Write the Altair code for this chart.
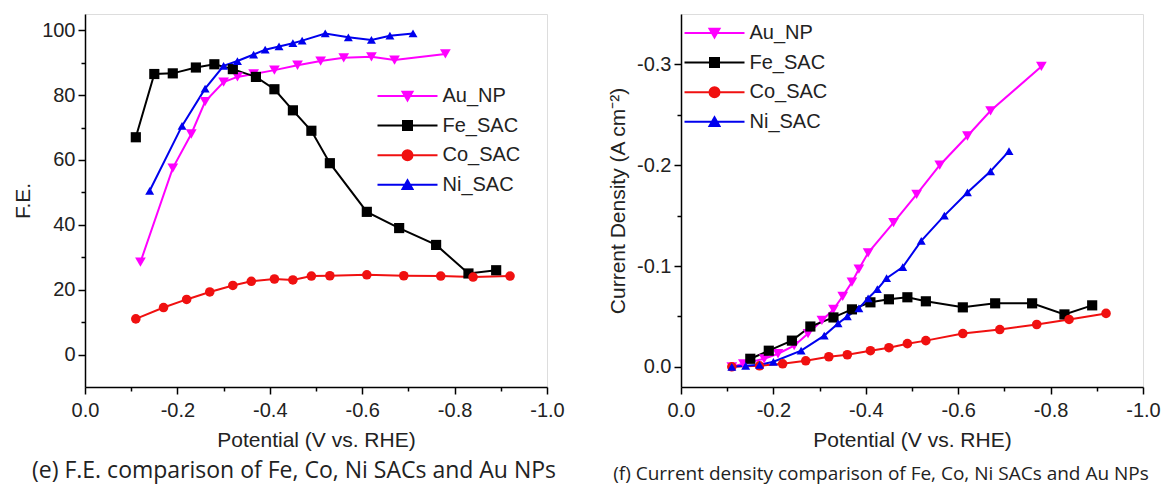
import altair as alt
import pandas as pd

series_order = ["Au_NP", "Fe_SAC", "Co_SAC", "Ni_SAC"]
series_colors = ["#FF00FF", "#000000", "#F01010", "#0000EE"]
marker_shapes = ["triangle-down", "square", "circle", "triangle-up"]
marker_sizes = [115, 80, 110, 115]
legend_shapes = [
    "M-1,0H11M4,-0.85H6L5,0.9Z",
    "M-1,0H11M4.1,-0.9H5.9V0.9H4.1Z",
    "M-1,0H11M4,0A1,1,0,1,0,6,0A1,1,0,1,0,4,0Z",
    "M-1,0H11M4,0.85H6L5,-0.9Z",
]

# ---- (e) Faradaic efficiency ----
au_fe_v = [-0.12, -0.19, -0.23, -0.26, -0.30, -0.33, -0.365, -0.41, -0.46, -0.51, -0.56, -0.62, -0.67, -0.78]
au_fe = [28.5, 57.5, 68, 78, 84, 85.6, 86.5, 87.7, 89.2, 90.5, 91.5, 91.8, 90.8, 92.7]
fe_fe_v = [-0.11, -0.15, -0.19, -0.24, -0.28, -0.32, -0.37, -0.41, -0.45, -0.49, -0.53, -0.61, -0.68, -0.76, -0.83, -0.89]
fe_fe = [67, 86.5, 86.7, 88.5, 89.5, 88, 85.6, 81.8, 75.3, 69, 59, 44, 39, 33.8, 25, 26]
co_fe_v = [-0.11, -0.17, -0.22, -0.27, -0.32, -0.36, -0.41, -0.45, -0.49, -0.53, -0.61, -0.69, -0.77, -0.84, -0.92]
co_fe = [11, 14.5, 17, 19.3, 21.3, 22.6, 23.3, 23, 24.2, 24.3, 24.6, 24.3, 24.2, 23.9, 24.2]
ni_fe_v = [-0.14, -0.21, -0.26, -0.30, -0.33, -0.365, -0.39, -0.42, -0.45, -0.47, -0.52, -0.57, -0.62, -0.66, -0.71]
ni_fe = [50.5, 70.5, 82, 89, 90.5, 92.5, 94, 95, 96, 96.8, 99, 97.8, 97, 98.3, 99]

# ---- (f) Current density ----
au_j_v = [-0.11, -0.135, -0.18, -0.21, -0.245, -0.275, -0.305, -0.33, -0.35, -0.37, -0.385, -0.405, -0.46, -0.51, -0.56, -0.62, -0.67, -0.78]
au_j = [0, -0.003, -0.008, -0.013, -0.021, -0.033, -0.046, -0.057, -0.070, -0.084, -0.097, -0.113, -0.143, -0.171, -0.2, -0.229, -0.254, -0.298]
fe_j_v = [-0.15, -0.19, -0.24, -0.28, -0.33, -0.37, -0.41, -0.45, -0.49, -0.53, -0.61, -0.68, -0.76, -0.83, -0.89]
fe_j = [-0.008, -0.016, -0.026, -0.04, -0.049, -0.057, -0.064, -0.067, -0.069, -0.065, -0.059, -0.063, -0.063, -0.052, -0.061]
co_j_v = [-0.11, -0.17, -0.22, -0.27, -0.32, -0.36, -0.41, -0.45, -0.49, -0.53, -0.61, -0.69, -0.77, -0.84, -0.92]
co_j = [0, -0.001, -0.003, -0.006, -0.01, -0.012, -0.016, -0.019, -0.023, -0.026, -0.033, -0.037, -0.042, -0.047, -0.053]
ni_j_v = [-0.11, -0.14, -0.17, -0.20, -0.26, -0.31, -0.34, -0.36, -0.385, -0.405, -0.425, -0.445, -0.48, -0.52, -0.57, -0.62, -0.67, -0.71]
ni_j = [0, -0.001, -0.002, -0.005, -0.016, -0.031, -0.043, -0.05, -0.058, -0.068, -0.077, -0.088, -0.099, -0.125, -0.15, -0.173, -0.194, -0.214]

x_ticks = [round(-0.1 * i, 1) for i in range(11)]
fe_ticks = list(range(0, 101, 10))
j_ticks = [round(-0.05 * i, 2) for i in range(7)]

FONT = "Liberation Sans"
TXT = "#222222"


def long_df(parts):
    rows = []
    for name, vs, ys in parts:
        for v, y in zip(vs, ys):
            rows.append({"V": v, "val": y, "series": name})
    return pd.DataFrame(rows)


fe_df = long_df([("Au_NP", au_fe_v, au_fe), ("Fe_SAC", fe_fe_v, fe_fe),
                 ("Co_SAC", co_fe_v, co_fe), ("Ni_SAC", ni_fe_v, ni_fe)])
j_df = long_df([("Au_NP", au_j_v, au_j), ("Fe_SAC", fe_j_v, fe_j),
                ("Co_SAC", co_j_v, co_j), ("Ni_SAC", ni_j_v, ni_j)])

x_label_expr = ("round(abs(datum.value)*10) % 2 == 1 ? '' : "
                "(datum.value < 0 ? '-' : '') + format(abs(datum.value), '.1f')")
x_minor = "round(abs(datum.value)*10) % 2 == 1"


def axis(title, values, label_expr, minor_test, label_pad, title_pad):
    return alt.Axis(
        title=title, values=values, labelExpr=label_expr, grid=False,
        tickSize={"condition": {"test": minor_test, "value": 4}, "value": 7},
        tickWidth=1.5, tickColor="black", domainColor="black", domainWidth=1.5,
        labelFont=FONT, labelFontSize=20, labelColor=TXT, labelPadding=label_pad,
        labelFlush=False, labelOverlap=False,
        titleFont=FONT, titleFontSize=21, titleFontWeight="normal", titleColor=TXT,
        titlePadding=title_pad,
    )


color_scale = alt.Scale(domain=series_order, range=series_colors)


def panel(df, y_scale, y_axis, legend_x, legend_y, w, caption, cap_size, cap_dx, cap_off):
    x = alt.X("V:Q", scale=alt.Scale(domain=[-1.0, 0.0], reverse=True, nice=False, zero=False),
              axis=axis("Potential (V vs. RHE)", x_ticks, x_label_expr, x_minor, 6, 9))
    y = alt.Y("val:Q", scale=y_scale, axis=y_axis)
    base = alt.Chart(df)
    lines = base.mark_line(strokeWidth=2).encode(
        x=x, y=y, color=alt.Color("series:N", scale=color_scale, legend=None))
    pts = base.mark_point(filled=True, strokeWidth=1, opacity=1).encode(
        x=x, y=y,
        color=alt.Color("series:N", scale=color_scale, legend=None),
        shape=alt.Shape("series:N", scale=alt.Scale(domain=series_order, range=marker_shapes), legend=None),
        size=alt.Size("series:N", scale=alt.Scale(domain=series_order, range=marker_sizes), legend=None),
    )
    leg = alt.Legend(title=None, orient="none", legendX=legend_x, legendY=legend_y,
                     symbolSize=100, symbolStrokeWidth=2, symbolOpacity=1,
                     labelFont=FONT, labelFontSize=20, labelColor=TXT,
                     labelOffset=50, rowPadding=9.6, padding=0)
    legend_layer = base.mark_point(filled=True).encode(
        x=x, y=y,
        color=alt.Color("series:N", scale=color_scale, legend=leg),
        stroke=alt.Stroke("series:N", scale=color_scale, legend=leg),
        shape=alt.Shape("series:N", scale=alt.Scale(domain=series_order, range=legend_shapes), legend=leg),
    ).transform_filter("false")
    return alt.layer(lines, pts, legend_layer).resolve_scale(
        color="independent", shape="independent", stroke="independent", size="independent"
    ).properties(
        width=w, height=373,
        title=alt.TitleParams(caption, orient="bottom", font="Open Sans", fontSize=cap_size,
                              fontWeight="normal", color=TXT, anchor="middle", frame="group",
                              dx=cap_dx, offset=cap_off),
    )


left = panel(
    fe_df,
    alt.Scale(domain=[-10, 105], nice=False, zero=False),
    axis("F.E.", fe_ticks, "datum.value % 20 != 0 ? '' : format(datum.value, 'd')",
         "datum.value % 20 != 0", 3, 8),
    287.5, 72, 462,
    "(e) F.E. comparison of Fe, Co, Ni SACs and Au NPs", 23, -22, 10,
)
right = panel(
    j_df,
    alt.Scale(domain=[-0.35, 0.02], reverse=True, nice=False, zero=False),
    axis("Current Density (A cm\u207b\u00b2)", j_ticks,
         "round(abs(datum.value)*20) % 2 == 1 ? '' : (datum.value < 0 ? '-' : '') + format(abs(datum.value), '.1f')",
         "round(abs(datum.value)*20) % 2 == 1", 3, 8),
    -1.5, 9, 462,
    "(f) Current density comparison of Fe, Co, Ni SACs and Au NPs", 19, -31, 15,
)

chart = alt.hconcat(left, right, spacing=134, bounds="flush").properties(
    padding={"left": 4, "top": 5, "right": 0, "bottom": 0}
).configure_view(stroke="black", strokeWidth=1.5).configure(background="white")

chart.save("out.html", embed_options={"renderer": "svg", "actions": False})
